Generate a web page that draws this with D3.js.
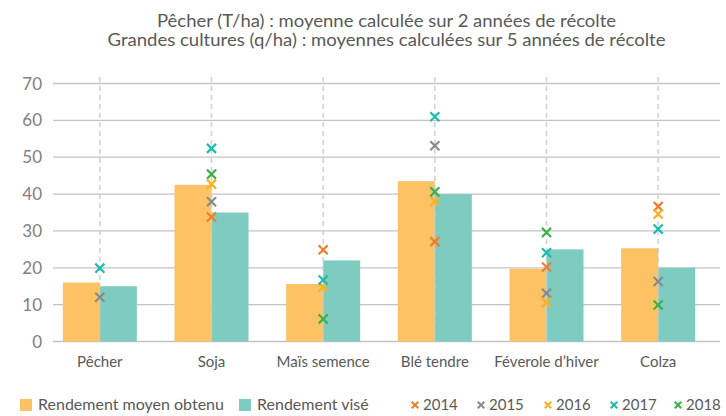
<!DOCTYPE html>
<html>
<head>
<meta charset="utf-8">
<script src="https://cdn.jsdelivr.net/npm/d3@7"></script>
<style>
  body { margin: 0; background: #fff; }
  svg { font-family: Lato, "Open Sans", sans-serif; }
</style>
</head>
<body>
<div id="chart"></div>
<script>
var categories = ["Pêcher", "Soja", "Maïs semence", "Blé tendre", "Féverole d’hiver", "Colza"];
var obtenu = [16, 42.5, 15.6, 43.5, 19.7, 25.3];
var vise = [15, 35, 22, 40, 25, 20];
var years = ["2014", "2015", "2016", "2017", "2018"];
var y2014 = [null, 33.8, 24.9, 27.1, 20.2, 36.6];
var y2015 = [12, 37.9, null, 53.1, 13.1, 16.3];
var y2016 = [null, 42.7, 14.8, 38.0, 10.6, 34.6];
var y2017 = [19.9, 52.4, 16.7, 61.0, 24.1, 30.5];
var y2018 = [null, 45.4, 6.1, 40.6, 29.6, 9.9];
var yTicks = [0, 10, 20, 30, 40, 50, 60, 70];
var titleLines = ["Pêcher (T/ha) : moyenne calculée sur 2 années de récolte",
                  "Grandes cultures (q/ha) : moyennes calculées sur 5 années de récolte"];

var yearSeries = [y2014, y2015, y2016, y2017, y2018];
var yearColors = ["#f07d2b", "#8a8a8a", "#f9b320", "#1fbcae", "#3cb04a"];
var barColors = ["#fcc263", "#7ecbbf"];

var width = 726, height = 416;

var svg = d3.select("#chart")
  .append("svg")
  .attr("width", width)
  .attr("height", height);

var x = d3.scaleBand()
  .domain(categories)
  .range([44, 714])
  .paddingInner(0)
  .paddingOuter(0);

var y = d3.scaleLinear()
  .domain([0, 70])
  .range([341.5, 83.5]);

// title
var titleW = [459, 558];
svg.selectAll(".title")
  .data(titleLines)
  .enter()
  .append("text")
  .attr("x", 386.5)
  .attr("y", function(d, i) { return 27 + i * 19; })
  .attr("text-anchor", "middle")
  .attr("font-size", 17.5)
  .attr("textLength", function(d, i) { return titleW[i]; })
  .attr("lengthAdjust", "spacingAndGlyphs")
  .attr("fill", "#595959")
  .text(function(d) { return d; });

// gridlines
svg.selectAll(".grid")
  .data(yTicks)
  .enter()
  .append("line")
  .attr("x1", 53)
  .attr("x2", 720)
  .attr("y1", function(d) { return y(d); })
  .attr("y2", function(d) { return y(d); })
  .attr("stroke", "#c3c3c3")
  .attr("stroke-width", 1.3);

// y tick labels
svg.selectAll(".ytick")
  .data(yTicks)
  .enter()
  .append("text")
  .attr("x", 42)
  .attr("y", function(d) { return y(d) + 6; })
  .attr("text-anchor", "end")
  .attr("font-size", 17)
  .attr("fill", "#808080")
  .text(function(d) { return d; });

// bars
var bw = 37;
var groups = svg.selectAll(".cat")
  .data(categories)
  .enter()
  .append("g")
  .attr("transform", function(d) { return "translate(" + (x(d) + x.bandwidth() / 2) + ",0)"; });

groups.append("rect")
  .attr("x", -bw)
  .attr("width", bw)
  .attr("y", function(d, i) { return y(obtenu[i]); })
  .attr("height", function(d, i) { return y(0) - y(obtenu[i]); })
  .attr("fill", barColors[0]);

groups.append("rect")
  .attr("x", 0)
  .attr("width", bw)
  .attr("y", function(d, i) { return y(vise[i]); })
  .attr("height", function(d, i) { return y(0) - y(vise[i]); })
  .attr("fill", barColors[1]);

// dashed vertical lines
groups.append("line")
  .attr("x1", 0).attr("x2", 0)
  .attr("y1", 77)
  .attr("y2", y(0))
  .attr("stroke", "#c8c8c8")
  .attr("stroke-opacity", 0.85)
  .attr("stroke-width", 1.5)
  .attr("stroke-dasharray", "5,4");

// x labels
groups.append("text")
  .attr("y", 367)
  .attr("text-anchor", "middle")
  .attr("font-size", 15)
  .attr("fill", "#595959")
  .text(function(d) { return d; });

// year markers
var cross = d3.symbol().type(d3.symbolX).size(55);
yearSeries.forEach(function(series, k) {
  groups.filter(function(d, i) { return series[i] != null; })
    .append("path")
    .attr("d", cross)
    .attr("transform", function(d) {
      var i = categories.indexOf(d);
      return "translate(0," + y(series[i]) + ")";
    })
    .attr("fill", "none")
    .attr("stroke", yearColors[k])
    .attr("stroke-width", 2.2);
});

// legend
var lg = svg.append("g").attr("fill", "#595959");
var barLegend = [
  { label: "Rendement moyen obtenu", x: 20, color: barColors[0] },
  { label: "Rendement visé", x: 239, color: barColors[1] }
];
barLegend.forEach(function(b) {
  lg.append("rect").attr("x", b.x).attr("y", 399).attr("width", 12).attr("height", 12).attr("fill", b.color);
  lg.append("text").attr("x", b.x + 18).attr("y", 410).attr("font-size", 16).text(b.label);
});
var yearX = [415, 481, 548, 614, 678];
years.forEach(function(yr, k) {
  lg.append("path")
    .attr("d", d3.symbol().type(d3.symbolX).size(30)())
    .attr("transform", "translate(" + yearX[k] + ",405)")
    .attr("fill", "none")
    .attr("stroke", yearColors[k])
    .attr("stroke-width", 2);
  lg.append("text").attr("x", yearX[k] + 8).attr("y", 410).attr("font-size", 15).text(yr);
});
</script>
</body>
</html>
